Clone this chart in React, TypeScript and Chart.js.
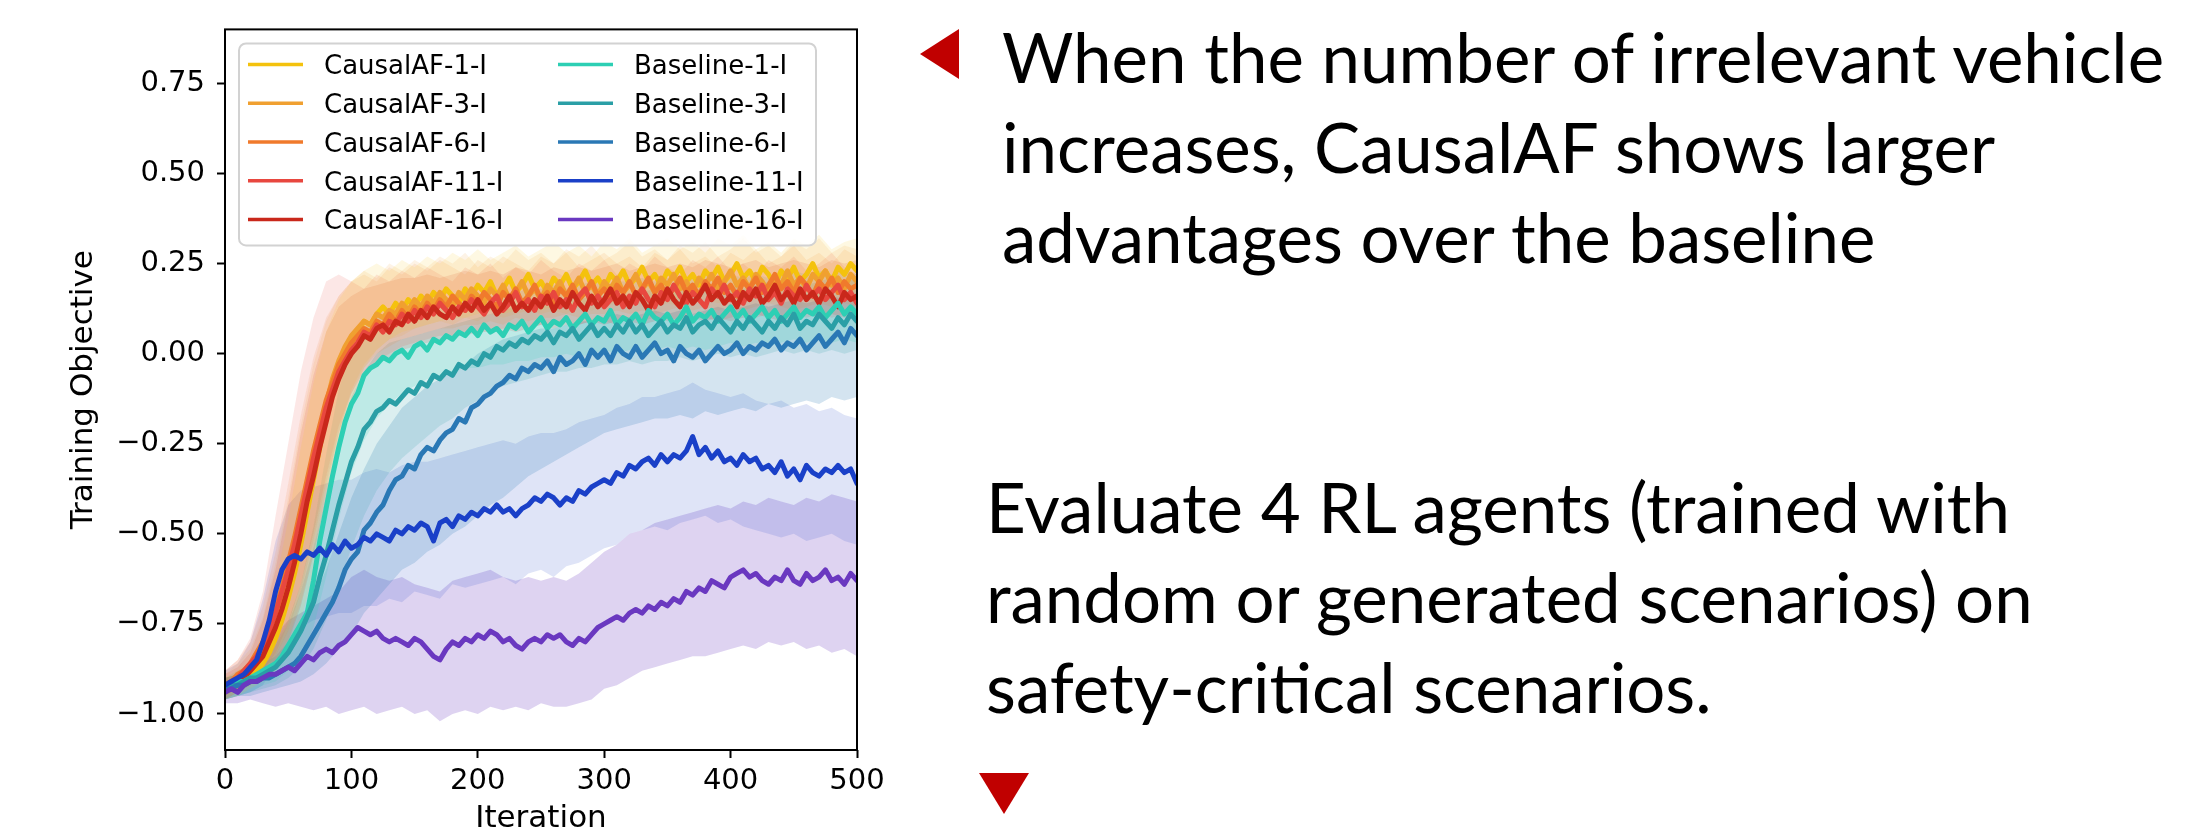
import React, { useEffect, useRef } from 'react';
import { Chart, registerables } from 'chart.js';

Chart.register(...registerables);

// ---------------- data ----------------
const MEAN_STEP = 5; // iterations between mean samples
const BAND_STEP = 10; // iterations between band samples
const X_TICKS = [0, 100, 200, 300, 400, 500];
const Y_TICKS = [-1, -0.75, -0.5, -0.25, 0, 0.25, 0.5, 0.75];
const X_TITLE = 'Iteration';
const Y_TITLE = 'Training Objective';

const LABELS = [
  'CausalAF-1-I', 'CausalAF-3-I', 'CausalAF-6-I', 'CausalAF-11-I', 'CausalAF-16-I',
  'Baseline-1-I', 'Baseline-3-I', 'Baseline-6-I', 'Baseline-11-I', 'Baseline-16-I',
];

const C1_MEAN = [
  -0.93,-0.93,-0.92,-0.91,-0.90,-0.88,-0.86,-0.83,-0.79,-0.74,-0.68,-0.61,-0.53,-0.44,-0.35,-0.26,-0.17,-0.10,-0.04,0.00,
  0.04,0.06,0.09,0.08,0.11,0.13,0.11,0.14,0.12,0.15,0.13,0.16,0.14,0.17,0.15,0.18,0.16,0.14,0.18,0.16,
  0.19,0.17,0.20,0.16,0.18,0.21,0.17,0.19,0.22,0.18,0.20,0.17,0.21,0.19,0.22,0.18,0.20,0.23,0.19,0.21,
  0.18,0.22,0.20,0.23,0.19,0.21,0.24,0.20,0.22,0.19,0.23,0.21,0.24,0.20,0.22,0.19,0.23,0.21,0.24,0.20,
  0.22,0.25,0.21,0.23,0.20,0.24,0.22,0.19,0.23,0.21,0.24,0.20,0.22,0.25,0.21,0.23,0.20,0.24,0.22,0.25,
  0.23,
];
const C1_LO = [
  -0.96,-0.95,-0.93,-0.91,-0.88,-0.83,-0.74,-0.61,-0.44,-0.27,
  -0.13,-0.04,0.01,0.04,0.06,0.07,0.08,0.09,0.10,0.10,
  0.11,0.12,0.11,0.12,0.13,0.12,0.13,0.14,0.13,0.14,
  0.15,0.14,0.15,0.16,0.15,0.16,0.15,0.16,0.17,0.16,
  0.17,0.16,0.17,0.16,0.17,0.18,0.17,0.16,0.17,0.18,
  0.17,
];
const C1_HI = [
  -0.90,-0.88,-0.85,-0.78,-0.64,-0.46,-0.26,-0.08,0.06,0.15,
  0.20,0.23,0.25,0.23,0.26,0.24,0.27,0.25,0.28,0.26,
  0.29,0.26,0.28,0.30,0.27,0.29,0.31,0.28,0.30,0.27,
  0.31,0.29,0.32,0.28,0.30,0.32,0.29,0.31,0.28,0.32,
  0.30,0.33,0.29,0.31,0.28,0.32,0.30,0.33,0.29,0.31,
  0.32,
];

const C3_MEAN = [
  -0.93,-0.92,-0.91,-0.90,-0.88,-0.86,-0.83,-0.80,-0.75,-0.70,-0.63,-0.55,-0.47,-0.38,-0.30,-0.22,-0.14,-0.07,-0.02,0.02,
  0.05,0.07,0.09,0.08,0.11,0.10,0.12,0.11,0.14,0.12,0.15,0.13,0.16,0.14,0.17,0.15,0.13,0.17,0.15,0.18,
  0.16,0.14,0.18,0.16,0.19,0.15,0.17,0.20,0.16,0.18,0.15,0.19,0.17,0.20,0.16,0.18,0.21,0.17,0.19,0.16,
  0.20,0.18,0.21,0.17,0.19,0.22,0.18,0.20,0.17,0.21,0.19,0.22,0.18,0.20,0.17,0.21,0.19,0.22,0.18,0.20,
  0.23,0.19,0.21,0.18,0.22,0.20,0.17,0.21,0.19,0.23,0.19,0.21,0.18,0.22,0.20,0.23,0.19,0.21,0.18,0.22,
  0.20,
];
const C3_LO = [
  -0.96,-0.94,-0.92,-0.89,-0.85,-0.79,-0.69,-0.55,-0.38,-0.22,
  -0.10,-0.03,0.01,0.04,0.05,0.07,0.08,0.09,0.08,0.10,
  0.09,0.11,0.10,0.11,0.12,0.11,0.12,0.11,0.13,0.12,
  0.13,0.14,0.13,0.14,0.13,0.14,0.13,0.14,0.15,0.14,
  0.15,0.14,0.15,0.14,0.15,0.16,0.15,0.14,0.15,0.16,
  0.15,
];
const C3_HI = [
  -0.89,-0.86,-0.82,-0.73,-0.58,-0.40,-0.20,-0.03,0.09,0.16,
  0.20,0.23,0.21,0.25,0.23,0.26,0.24,0.27,0.25,0.28,
  0.24,0.27,0.25,0.29,0.26,0.28,0.25,0.29,0.27,0.30,
  0.26,0.28,0.31,0.27,0.29,0.26,0.30,0.28,0.31,0.27,
  0.29,0.32,0.28,0.30,0.27,0.31,0.29,0.32,0.28,0.30,
  0.29,
];

const C6_MEAN = [
  -0.92,-0.91,-0.89,-0.88,-0.86,-0.83,-0.80,-0.76,-0.71,-0.65,-0.58,-0.51,-0.43,-0.35,-0.27,-0.20,-0.13,-0.08,-0.03,0.00,
  0.03,0.05,0.07,0.06,0.09,0.08,0.11,0.09,0.12,0.10,0.13,0.11,0.14,0.12,0.15,0.13,0.16,0.14,0.12,0.16,
  0.14,0.17,0.15,0.13,0.17,0.15,0.18,0.14,0.16,0.19,0.15,0.17,0.14,0.18,0.16,0.19,0.15,0.17,0.20,0.16,
  0.18,0.15,0.19,0.17,0.20,0.16,0.18,0.21,0.17,0.19,0.16,0.18,0.21,0.17,0.19,0.16,0.20,0.18,0.21,0.17,
  0.19,0.16,0.20,0.18,0.21,0.17,0.19,0.22,0.18,0.20,0.17,0.21,0.19,0.16,0.20,0.18,0.21,0.17,0.20,0.18,
  0.19,
];
const C6_LO = [
  -0.95,-0.93,-0.91,-0.88,-0.84,-0.77,-0.66,-0.52,-0.36,-0.22,
  -0.11,-0.04,0.00,0.02,0.04,0.05,0.06,0.07,0.07,0.08,
  0.08,0.09,0.08,0.10,0.09,0.10,0.10,0.11,0.10,0.11,
  0.11,0.12,0.11,0.12,0.11,0.12,0.13,0.12,0.13,0.12,
  0.13,0.12,0.13,0.14,0.13,0.12,0.13,0.14,0.13,0.14,
  0.13,
];
const C6_HI = [
  -0.88,-0.85,-0.80,-0.70,-0.55,-0.36,-0.17,-0.01,0.10,0.16,
  0.20,0.22,0.20,0.24,0.22,0.25,0.23,0.26,0.24,0.22,
  0.26,0.24,0.27,0.25,0.23,0.27,0.25,0.28,0.24,0.26,
  0.28,0.25,0.27,0.24,0.28,0.26,0.29,0.25,0.27,0.24,
  0.28,0.26,0.29,0.25,0.27,0.30,0.26,0.28,0.25,0.29,
  0.27,
];

const C11_MEAN = [
  -0.92,-0.91,-0.90,-0.88,-0.86,-0.84,-0.81,-0.77,-0.72,-0.66,-0.60,-0.53,-0.45,-0.37,-0.29,-0.22,-0.15,-0.10,-0.05,-0.02,
  0.01,0.03,0.06,0.05,0.08,0.06,0.09,0.08,0.11,0.09,0.12,0.10,0.13,0.11,0.14,0.12,0.10,0.13,0.12,0.15,
  0.13,0.11,0.14,0.16,0.12,0.14,0.17,0.13,0.15,0.12,0.16,0.14,0.17,0.13,0.15,0.12,0.16,0.18,0.14,0.16,
  0.13,0.15,0.17,0.13,0.16,0.14,0.18,0.15,0.13,0.17,0.15,0.19,0.16,0.14,0.17,0.15,0.13,0.18,0.16,0.19,
  0.15,0.17,0.14,0.18,0.16,0.19,0.15,0.17,0.14,0.18,0.16,0.15,0.19,0.16,0.18,0.15,0.17,0.19,0.15,0.17,
  0.14,
];
const C11_LO = [
  -0.95,-0.93,-0.91,-0.88,-0.83,-0.75,-0.64,-0.50,-0.34,-0.20,
  -0.11,-0.05,-0.02,0.00,0.02,0.03,0.04,0.05,0.05,0.06,
  0.06,0.07,0.06,0.08,0.07,0.08,0.08,0.09,0.08,0.09,
  0.09,0.08,0.10,0.09,0.10,0.09,0.10,0.11,0.10,0.09,
  0.10,0.11,0.10,0.11,0.10,0.11,0.10,0.11,0.10,0.11,
  0.09,
];
const C11_HI = [
  -0.88,-0.85,-0.79,-0.66,-0.45,-0.25,-0.05,0.10,0.20,0.22,
  0.20,0.18,0.22,0.20,0.23,0.21,0.24,0.22,0.20,0.24,
  0.22,0.25,0.21,0.24,0.22,0.26,0.23,0.21,0.25,0.23,
  0.26,0.22,0.25,0.23,0.27,0.24,0.22,0.26,0.24,0.27,
  0.23,0.25,0.22,0.26,0.24,0.27,0.23,0.25,0.28,0.24,
  0.22,
];

const C16_MEAN = [
  -0.93,-0.92,-0.91,-0.90,-0.88,-0.86,-0.84,-0.80,-0.76,-0.71,-0.65,-0.58,-0.50,-0.41,-0.34,-0.26,-0.19,-0.12,-0.07,-0.03,
  0.00,0.02,0.05,0.04,0.07,0.08,0.06,0.09,0.08,0.11,0.09,0.12,0.10,0.13,0.11,0.10,0.13,0.11,0.14,0.12,
  0.15,0.12,0.14,0.11,0.13,0.16,0.12,0.14,0.12,0.15,0.13,0.16,0.12,0.15,0.13,0.17,0.14,0.12,0.16,0.13,
  0.15,0.18,0.14,0.16,0.13,0.17,0.15,0.12,0.16,0.14,0.18,0.15,0.13,0.17,0.14,0.16,0.19,0.15,0.17,0.14,
  0.16,0.13,0.17,0.15,0.18,0.14,0.16,0.19,0.15,0.17,0.14,0.18,0.15,0.17,0.14,0.18,0.16,0.13,0.17,0.15,
  0.16,
];
const C16_LO = [
  -0.96,-0.94,-0.92,-0.90,-0.86,-0.80,-0.70,-0.56,-0.40,-0.25,
  -0.14,-0.07,-0.03,-0.01,0.01,0.02,0.03,0.04,0.05,0.05,
  0.06,0.06,0.07,0.06,0.07,0.08,0.07,0.08,0.08,0.09,
  0.08,0.09,0.09,0.08,0.09,0.10,0.09,0.10,0.09,0.10,
  0.09,0.10,0.11,0.10,0.09,0.10,0.11,0.10,0.11,0.10,
  0.11,
];
const C16_HI = [
  -0.89,-0.87,-0.83,-0.74,-0.60,-0.42,-0.22,-0.06,0.06,0.13,
  0.16,0.18,0.19,0.20,0.21,0.21,0.22,0.21,0.22,0.23,
  0.22,0.23,0.22,0.24,0.23,0.22,0.24,0.23,0.24,0.23,
  0.24,0.25,0.23,0.24,0.25,0.24,0.25,0.24,0.26,0.25,
  0.24,0.25,0.26,0.24,0.25,0.26,0.25,0.24,0.26,0.25,
  0.26,
];

const B1_MEAN = [
  -0.93,-0.92,-0.91,-0.91,-0.90,-0.89,-0.88,-0.87,-0.86,-0.84,-0.81,-0.78,-0.75,-0.72,-0.63,-0.52,-0.43,-0.34,-0.26,-0.19,
  -0.14,-0.11,-0.06,-0.04,-0.03,-0.01,-0.02,0.00,0.01,-0.01,0.02,0.03,0.01,0.04,0.03,0.05,0.04,0.06,0.05,0.07,
  0.05,0.08,0.06,0.07,0.05,0.08,0.07,0.09,0.06,0.08,0.10,0.07,0.09,0.08,0.10,0.07,0.09,0.11,0.08,0.10,
  0.09,0.12,0.08,0.10,0.09,0.11,0.08,0.12,0.10,0.09,0.11,0.08,0.10,0.13,0.09,0.11,0.10,0.12,0.09,0.11,
  0.13,0.10,0.12,0.09,0.11,0.13,0.10,0.12,0.09,0.11,0.13,0.10,0.12,0.11,0.13,0.10,0.12,0.14,0.11,0.13,
  0.11,
];
const B1_LO = [
  -0.96,-0.95,-0.94,-0.92,-0.91,-0.88,-0.84,-0.76,-0.62,-0.46,
  -0.33,-0.24,-0.18,-0.14,-0.11,-0.09,-0.07,-0.06,-0.05,-0.04,
  -0.04,-0.03,-0.03,-0.02,-0.02,-0.01,-0.01,0.00,-0.01,0.00,
  0.01,0.00,0.01,0.00,0.01,0.02,0.01,0.02,0.01,0.02,
  0.03,0.02,0.03,0.02,0.03,0.04,0.03,0.04,0.03,0.04,
  0.03,
];
const B1_HI = [
  -0.90,-0.88,-0.86,-0.84,-0.80,-0.74,-0.64,-0.48,-0.28,-0.10,
  0.02,0.07,0.10,0.11,0.12,0.13,0.13,0.14,0.15,0.15,
  0.16,0.16,0.17,0.17,0.18,0.18,0.19,0.18,0.19,0.20,
  0.19,0.20,0.20,0.21,0.20,0.21,0.20,0.21,0.22,0.21,
  0.22,0.21,0.22,0.21,0.22,0.23,0.22,0.23,0.22,0.23,
  0.22,
];

const B3_MEAN = [
  -0.93,-0.92,-0.92,-0.91,-0.90,-0.90,-0.89,-0.88,-0.87,-0.85,-0.83,-0.80,-0.77,-0.73,-0.69,-0.62,-0.56,-0.49,-0.42,-0.36,
  -0.30,-0.26,-0.21,-0.19,-0.16,-0.15,-0.13,-0.14,-0.12,-0.10,-0.11,-0.08,-0.09,-0.06,-0.07,-0.05,-0.06,-0.03,-0.04,-0.02,
  -0.03,0.00,-0.01,0.02,0.01,0.03,0.02,0.04,0.03,0.05,0.04,0.06,0.03,0.06,0.05,0.07,0.04,0.06,0.08,0.05,
  0.07,0.05,0.08,0.06,0.09,0.06,0.08,0.05,0.07,0.09,0.06,0.08,0.07,0.10,0.06,0.08,0.09,0.07,0.10,0.08,
  0.06,0.09,0.07,0.10,0.08,0.06,0.09,0.07,0.10,0.08,0.11,0.07,0.09,0.08,0.11,0.09,0.07,0.10,0.08,0.11,
  0.09,
];
const B3_LO = [
  -0.96,-0.95,-0.94,-0.93,-0.92,-0.90,-0.87,-0.82,-0.74,-0.64,
  -0.54,-0.45,-0.38,-0.33,-0.29,-0.26,-0.23,-0.20,-0.18,-0.15,
  -0.13,-0.11,-0.09,-0.08,-0.07,-0.06,-0.05,-0.05,-0.04,-0.04,
  -0.03,-0.03,-0.02,-0.03,-0.02,-0.02,-0.01,-0.02,-0.01,0.00,
  -0.01,0.00,-0.01,0.00,0.01,0.00,0.01,0.00,0.01,0.00,
  0.01,
];
const B3_HI = [
  -0.90,-0.89,-0.87,-0.85,-0.81,-0.75,-0.66,-0.54,-0.40,-0.25,
  -0.12,-0.05,0.00,0.03,0.04,0.05,0.06,0.07,0.08,0.09,
  0.10,0.11,0.12,0.13,0.13,0.14,0.14,0.15,0.15,0.16,
  0.16,0.17,0.16,0.17,0.18,0.17,0.18,0.17,0.19,0.18,
  0.19,0.18,0.19,0.20,0.19,0.20,0.19,0.20,0.21,0.20,
  0.21,
];

const B6_MEAN = [
  -0.93,-0.93,-0.92,-0.92,-0.91,-0.91,-0.90,-0.90,-0.89,-0.88,-0.87,-0.86,-0.84,-0.81,-0.78,-0.75,-0.72,-0.69,-0.65,-0.60,
  -0.57,-0.55,-0.49,-0.47,-0.44,-0.42,-0.38,-0.35,-0.34,-0.31,-0.32,-0.28,-0.26,-0.27,-0.24,-0.22,-0.21,-0.18,-0.19,-0.15,
  -0.14,-0.12,-0.11,-0.09,-0.08,-0.06,-0.07,-0.04,-0.05,-0.03,-0.04,-0.02,-0.05,-0.01,-0.03,-0.02,0.00,-0.03,0.01,-0.01,
  0.01,-0.02,0.02,0.00,-0.01,0.02,-0.01,0.01,0.03,0.00,0.01,-0.02,0.02,0.00,-0.01,0.01,-0.02,0.00,0.02,0.00,
  0.01,0.03,0.00,0.02,0.01,0.03,0.02,0.04,0.01,0.03,0.02,0.04,0.01,0.03,0.05,0.02,0.04,0.06,0.03,0.07,
  0.05,
];
const B6_LO = [
  -0.96,-0.95,-0.95,-0.94,-0.93,-0.92,-0.91,-0.89,-0.86,-0.82,
  -0.78,-0.72,-0.68,-0.64,-0.60,-0.58,-0.55,-0.53,-0.50,-0.48,
  -0.45,-0.42,-0.40,-0.37,-0.34,-0.32,-0.30,-0.28,-0.26,-0.24,
  -0.22,-0.21,-0.20,-0.19,-0.18,-0.18,-0.17,-0.18,-0.16,-0.17,
  -0.16,-0.15,-0.16,-0.14,-0.15,-0.14,-0.13,-0.14,-0.12,-0.13,
  -0.12,
];
const B6_HI = [
  -0.90,-0.89,-0.88,-0.86,-0.84,-0.80,-0.75,-0.68,-0.60,-0.50,
  -0.40,-0.32,-0.25,-0.20,-0.15,-0.12,-0.09,-0.07,-0.05,-0.03,
  0.00,0.02,0.04,0.05,0.06,0.07,0.07,0.08,0.09,0.09,
  0.10,0.11,0.10,0.11,0.12,0.11,0.12,0.11,0.12,0.13,
  0.12,0.13,0.14,0.13,0.14,0.15,0.14,0.15,0.16,0.15,
  0.17,
];

const B11_MEAN = [
  -0.92,-0.91,-0.90,-0.89,-0.87,-0.85,-0.80,-0.74,-0.66,-0.60,-0.57,-0.56,-0.57,-0.55,-0.56,-0.54,-0.56,-0.53,-0.55,-0.52,
  -0.54,-0.53,-0.51,-0.52,-0.50,-0.51,-0.52,-0.49,-0.50,-0.48,-0.49,-0.47,-0.48,-0.52,-0.47,-0.46,-0.48,-0.45,-0.46,-0.44,
  -0.45,-0.43,-0.44,-0.42,-0.44,-0.43,-0.45,-0.43,-0.42,-0.40,-0.41,-0.39,-0.40,-0.42,-0.40,-0.41,-0.38,-0.39,-0.37,-0.36,
  -0.35,-0.36,-0.33,-0.34,-0.31,-0.32,-0.30,-0.29,-0.31,-0.28,-0.30,-0.28,-0.29,-0.27,-0.23,-0.28,-0.26,-0.29,-0.27,-0.30,
  -0.29,-0.31,-0.28,-0.30,-0.29,-0.32,-0.31,-0.33,-0.30,-0.34,-0.32,-0.35,-0.31,-0.33,-0.34,-0.32,-0.33,-0.31,-0.33,-0.32,
  -0.36,
];
const B11_LO = [
  -0.96,-0.95,-0.94,-0.92,-0.86,-0.80,-0.76,-0.74,-0.73,-0.72,
  -0.72,-0.70,-0.70,-0.68,-0.69,-0.66,-0.67,-0.68,-0.64,-0.65,
  -0.64,-0.63,-0.62,-0.64,-0.61,-0.60,-0.62,-0.59,-0.58,-0.56,
  -0.54,-0.53,-0.50,-0.49,-0.48,-0.49,-0.47,-0.46,-0.45,-0.47,
  -0.46,-0.48,-0.49,-0.50,-0.51,-0.50,-0.52,-0.51,-0.50,-0.52,
  -0.53,
];
const B11_HI = [
  -0.88,-0.86,-0.80,-0.68,-0.52,-0.42,-0.38,-0.37,-0.36,-0.35,
  -0.35,-0.33,-0.32,-0.33,-0.31,-0.30,-0.30,-0.29,-0.28,-0.27,
  -0.26,-0.25,-0.24,-0.25,-0.23,-0.22,-0.22,-0.21,-0.19,-0.18,
  -0.17,-0.15,-0.14,-0.12,-0.12,-0.11,-0.10,-0.08,-0.10,-0.11,
  -0.12,-0.11,-0.13,-0.14,-0.13,-0.15,-0.14,-0.16,-0.15,-0.17,
  -0.18,
];

const B16_MEAN = [
  -0.94,-0.93,-0.94,-0.92,-0.91,-0.91,-0.90,-0.89,-0.89,-0.88,-0.87,-0.88,-0.86,-0.84,-0.85,-0.83,-0.82,-0.83,-0.81,-0.80,
  -0.78,-0.76,-0.77,-0.78,-0.77,-0.79,-0.80,-0.79,-0.80,-0.81,-0.79,-0.80,-0.82,-0.84,-0.85,-0.82,-0.80,-0.81,-0.79,-0.80,
  -0.78,-0.79,-0.77,-0.78,-0.80,-0.79,-0.81,-0.82,-0.80,-0.79,-0.80,-0.78,-0.79,-0.78,-0.80,-0.81,-0.79,-0.80,-0.78,-0.76,
  -0.75,-0.74,-0.73,-0.74,-0.72,-0.71,-0.72,-0.70,-0.71,-0.69,-0.70,-0.68,-0.69,-0.66,-0.67,-0.65,-0.66,-0.63,-0.64,-0.65,
  -0.62,-0.61,-0.60,-0.62,-0.61,-0.63,-0.64,-0.62,-0.63,-0.60,-0.63,-0.64,-0.61,-0.63,-0.62,-0.60,-0.63,-0.62,-0.64,-0.61,
  -0.63,
];
const B16_LO = [
  -0.97,-0.97,-0.96,-0.97,-0.98,-0.97,-0.98,-0.99,-0.98,-1.00,
  -0.99,-0.98,-1.00,-0.99,-0.98,-1.00,-0.99,-1.02,-1.00,-0.99,
  -1.00,-0.98,-0.99,-0.98,-0.99,-0.97,-0.98,-0.98,-0.97,-0.96,
  -0.93,-0.92,-0.90,-0.88,-0.87,-0.86,-0.85,-0.84,-0.84,-0.83,
  -0.82,-0.81,-0.82,-0.80,-0.81,-0.80,-0.82,-0.81,-0.83,-0.82,
  -0.84,
];
const B16_HI = [
  -0.90,-0.89,-0.86,-0.82,-0.78,-0.74,-0.72,-0.70,-0.68,-0.66,
  -0.62,-0.60,-0.62,-0.63,-0.62,-0.64,-0.65,-0.66,-0.63,-0.62,
  -0.61,-0.60,-0.62,-0.63,-0.62,-0.63,-0.62,-0.63,-0.61,-0.58,
  -0.55,-0.53,-0.50,-0.49,-0.47,-0.46,-0.45,-0.44,-0.43,-0.42,
  -0.43,-0.41,-0.42,-0.40,-0.41,-0.42,-0.40,-0.41,-0.39,-0.40,
  -0.41,
];

const MEANS = [C1_MEAN, C3_MEAN, C6_MEAN, C11_MEAN, C16_MEAN, B1_MEAN, B3_MEAN, B6_MEAN, B11_MEAN, B16_MEAN];
const LOWS = [C1_LO, C3_LO, C6_LO, C11_LO, C16_LO, B1_LO, B3_LO, B6_LO, B11_LO, B16_LO];
const HIGHS = [C1_HI, C3_HI, C6_HI, C11_HI, C16_HI, B1_HI, B3_HI, B6_HI, B11_HI, B16_HI];

const TEXT_BLOCK_1 = [
  'When the number of irrelevant vehicle',
  'increases, CausalAF shows larger',
  'advantages over the baseline',
];
const TEXT_BLOCK_2 = [
  'Evaluate 4 RL agents (trained with',
  'random or generated scenarios) on',
  'safety-critical scenarios.',
];

// ---------------- styles ----------------
const COLORS = [
  '#f4c20d', '#f0a030', '#f07a2c', '#e8473f', '#c9281b',
  '#2dcfb4', '#2a9fa6', '#2a78b5', '#1a40c8', '#6a38c0',
];
const BAND_ALPHA = [0.12, 0.12, 0.12, 0.13, 0.13, 0.17, 0.17, 0.2, 0.14, 0.22];

function rgba(hex: string, a: number) {
  const n = parseInt(hex.slice(1), 16);
  return `rgba(${(n >> 16) & 255},${(n >> 8) & 255},${n & 255},${a})`;
}
function toPoints(values: number[], step: number) {
  return values.map((y, i) => ({ x: i * step, y }));
}
function fmtY(v: number) {
  const s = Math.abs(v).toFixed(2);
  return v < 0 ? '\u2212' + s : s;
}

const FONT = '"DejaVu Sans", sans-serif';

const frameLegendPlugin = {
  id: 'frameLegend',
  afterDatasetsDraw(chart: any) {
    const { ctx, chartArea: a } = chart;
    ctx.save();
    ctx.strokeStyle = '#000';
    ctx.lineWidth = 2;
    ctx.strokeRect(a.left, a.top, a.right - a.left, a.bottom - a.top);

    const bx = a.left + 14;
    const by = a.top + 14;
    const bw = 577;
    const bh = 202;
    ctx.beginPath();
    if (ctx.roundRect) ctx.roundRect(bx, by, bw, bh, 7);
    else ctx.rect(bx, by, bw, bh);
    ctx.fillStyle = 'rgba(255,255,255,0.85)';
    ctx.fill();
    ctx.strokeStyle = '#d2d2d2';
    ctx.lineWidth = 2;
    ctx.stroke();

    ctx.font = `26px ${FONT}`;
    ctx.textBaseline = 'alphabetic';
    ctx.textAlign = 'left';
    LABELS.forEach((label, i) => {
      const col = i < 5 ? 0 : 1;
      const row = i % 5;
      const cy = by + 21 + row * 38.75;
      const hx = bx + 9 + col * 310;
      ctx.strokeStyle = COLORS[i];
      ctx.lineWidth = 3.5;
      ctx.beginPath();
      ctx.moveTo(hx, cy);
      ctx.lineTo(hx + 55, cy);
      ctx.stroke();
      ctx.fillStyle = '#000';
      ctx.fillText(label, hx + 76, cy + 10);
    });
    ctx.restore();
  },
};

function ChartPanel() {
  const ref = useRef<HTMLCanvasElement | null>(null);
  useEffect(() => {
    if (!ref.current) return;
    const datasets: any[] = [];
    LABELS.forEach((label, k) => {
      const color = COLORS[k];
      datasets.push({
        label: label + ' lower',
        data: toPoints(LOWS[k], BAND_STEP),
        borderWidth: 0,
        borderColor: 'rgba(0,0,0,0)',
        pointRadius: 0,
        fill: false,
        order: 100,
      });
      datasets.push({
        label: label + ' upper',
        data: toPoints(HIGHS[k], BAND_STEP),
        borderWidth: 0,
        borderColor: 'rgba(0,0,0,0)',
        backgroundColor: rgba(color, BAND_ALPHA[k]),
        pointRadius: 0,
        fill: '-1',
        order: 100,
      });
      datasets.push({
        label,
        data: toPoints(MEANS[k], MEAN_STEP),
        borderColor: color,
        backgroundColor: color,
        borderWidth: 5,
        pointRadius: 0,
        fill: false,
        order: LABELS.length - 1 - k,
        borderJoinStyle: 'round',
        borderCapStyle: 'round',
      });
    });

    const chart = new Chart(ref.current, {
      type: 'line',
      data: { datasets },
      plugins: [frameLegendPlugin],
      options: {
        animation: false,
        responsive: false,
        maintainAspectRatio: false,
        parsing: false as any,
        normalized: true,
        layout: { padding: { left: 0, right: 43, top: 24, bottom: 0 } },
        plugins: {
          legend: { display: false },
          tooltip: { enabled: false },
          filler: { propagate: false, drawTime: 'beforeDatasetsDraw' } as any,
        },
        elements: { line: { tension: 0 } },
        scales: {
          x: {
            type: 'linear',
            min: 0,
            max: 500,
            afterBuildTicks: (s: any) => { s.ticks = X_TICKS.map((v) => ({ value: v })); },
            afterFit: (s: any) => { s.height = 80; },
            grid: { display: true, drawOnChartArea: false, drawTicks: true, tickLength: 8, tickWidth: 2, tickColor: '#000' },
            border: { display: false },
            ticks: {
              color: '#000',
              font: { family: FONT, size: 29 },
              padding: 6,
              maxRotation: 0,
              autoSkip: false,
              callback: (v: any) => String(v),
            },
            title: {
              display: true,
              text: X_TITLE,
              color: '#000',
              font: { family: FONT, size: 31 },
              padding: { top: 0, bottom: -8 },
            },
          },
          y: {
            type: 'linear',
            min: -1.1,
            max: 0.9,
            afterBuildTicks: (s: any) => { s.ticks = Y_TICKS.map((v) => ({ value: v })); },
            afterFit: (s: any) => { s.width = 225; },
            grid: { display: true, drawOnChartArea: false, drawTicks: true, tickLength: 8, tickWidth: 2, tickColor: '#000' },
            border: { display: false },
            ticks: {
              color: '#000',
              font: { family: FONT, size: 29 },
              padding: 12,
              autoSkip: false,
              callback: (v: any) => fmtY(Number(v)),
            },
            title: {
              display: true,
              text: Y_TITLE,
              color: '#000',
              font: { family: FONT, size: 31 },
              padding: { top: 65, bottom: 0 },
            },
          },
        },
      } as any,
    });
    return () => chart.destroy();
  }, []);
  return (
    <canvas
      ref={ref}
      width={900}
      height={830}
      style={{ position: 'absolute', left: 0, top: 0, width: 900, height: 830 }}
    />
  );
}

export default function App() {
  const textFont = 'Lato, "Open Sans", sans-serif';
  const size = 69;
  return (
    <div
      style={{
        position: 'fixed',
        left: 0,
        top: 0,
        width: 2207,
        height: 830,
        overflow: 'hidden',
        background: '#fff',
      }}
    >
      <ChartPanel />
      <svg
        width={2207}
        height={830}
        style={{ position: 'absolute', left: 0, top: 0, pointerEvents: 'none' }}
      >
        <polygon points="959,29 959,79 920,54" fill="#c00000" />
        <polygon points="979,773 1029,773 1004,814" fill="#c00000" />
        {TEXT_BLOCK_1.map((t, i) => (
          <text key={'a' + i} x={1002} y={83 + i * 90} fontFamily={textFont} fontSize={size} fill="#000">
            {t}
          </text>
        ))}
        {TEXT_BLOCK_2.map((t, i) => (
          <text key={'b' + i} x={986} y={533 + i * 90} fontFamily={textFont} fontSize={size} fill="#000">
            {t}
          </text>
        ))}
      </svg>
    </div>
  );
}
